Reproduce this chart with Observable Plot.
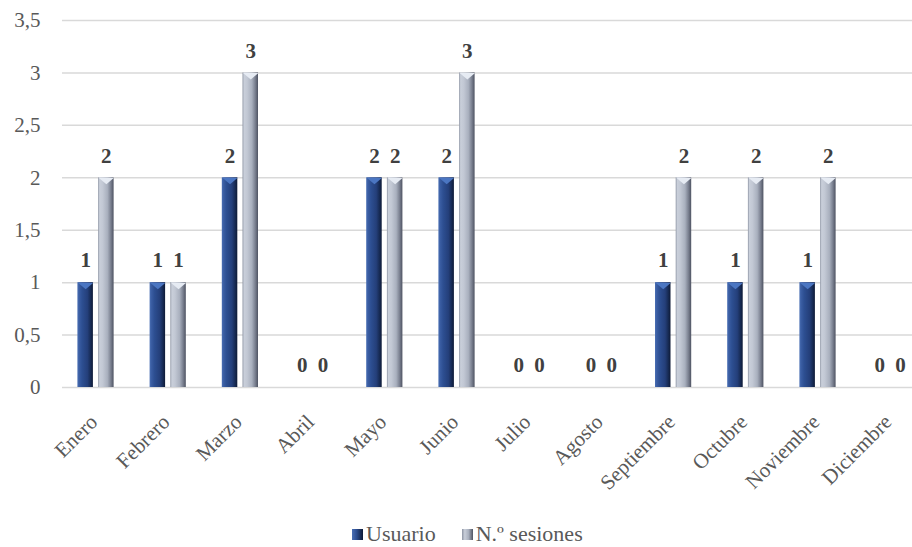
<!DOCTYPE html>
<html>
<head>
<meta charset="utf-8">
<script src="https://cdn.jsdelivr.net/npm/d3@7"></script>
<script src="https://cdn.jsdelivr.net/npm/@observablehq/plot@0.6"></script>
<style>
  html, body { margin: 0; padding: 0; background: #fff; }
  #wrap { position: relative; width: 912px; height: 547px; font-family: "Liberation Serif", "Times New Roman", serif; }
  #legend { position: absolute; left: 352px; top: 522px; height: 24px; line-height: 24px; font-size: 22px; color: #595959; white-space: nowrap; }
  #legend .sw { display: inline-block; width: 11px; height: 11px; vertical-align: 1px; margin-right: 3px; }
  #legend .item { display: inline-block; }
</style>
</head>
<body>
<div id="wrap"><div id="chart"></div><div id="legend"></div></div>
<script>
const months = ["Enero", "Febrero", "Marzo", "Abril", "Mayo", "Junio", "Julio", "Agosto", "Septiembre", "Octubre", "Noviembre", "Diciembre"];
const usuario = [1, 1, 2, 0, 2, 2, 0, 0, 1, 1, 1, 0];
const sesiones = [2, 1, 3, 0, 2, 3, 0, 0, 2, 2, 2, 0];
const seriesNames = ["Usuario", "N.º sesiones"];
const yTicks = [0, 0.5, 1, 1.5, 2, 2.5, 3, 3.5];

const rows = months.flatMap((m, i) => [
  {month: m, serie: seriesNames[0], value: usuario[i]},
  {month: m, serie: seriesNames[1], value: sesiones[i]}
]);
const blue = rows.filter(d => d.serie === seriesNames[0]);
const gray = rows.filter(d => d.serie === seriesNames[1]);

const font = "'Liberation Serif', 'Times New Roman', serif";

const defs = () => {
  const svg = d3.create("svg:g");
  const d = svg.append("defs");
  const gb = d.append("linearGradient").attr("id", "gBlue").attr("x1", 0).attr("x2", 1).attr("y1", 0).attr("y2", 0);
  [[0, "#4A6FB4"], [0.12, "#3A5DA2"], [0.3, "#2D4F92"], [0.65, "#243F7A"], [0.85, "#172B55"], [1, "#0E1A36"]]
    .forEach(([o, c]) => gb.append("stop").attr("offset", o).attr("stop-color", c));
  const gg = d.append("linearGradient").attr("id", "gGray").attr("x1", 0).attr("x2", 1).attr("y1", 0).attr("y2", 0);
  [[0, "#8E95A4"], [0.1, "#C9CFDA"], [0.3, "#C2C8D4"], [0.6, "#A9B0BE"], [0.82, "#7A8090"], [1, "#4E5362"]]
    .forEach(([o, c]) => gg.append("stop").attr("offset", o).attr("stop-color", c));
  return svg.node();
};

const capSymbol = {
  draw(ctx) {
    ctx.moveTo(-7.7, -3);
    ctx.lineTo(7.7, -3);
    ctx.lineTo(0, 3.5);
    ctx.closePath();
  }
};

const bw = 72.2;
const off = 10.35;

const chart = Plot.plot({
  width: 912,
  height: 522,
  marginTop: 20,
  marginBottom: 135,
  marginLeft: 62,
  marginRight: 0,
  style: {fontFamily: font, color: "#595959", background: "#fff"},
  x: {type: "band", domain: months, range: [59.4, 59.4 + 12 * bw], padding: 0, round: false, axis: null},
  y: {domain: [0, 3.5], axis: null},
  marks: [
    defs,
    Plot.ruleY(yTicks, {stroke: "#D9D9D9", strokeWidth: 1.5}),
    Plot.axisY({ticks: yTicks, tickSize: 0, tickPadding: 22, fontSize: 21, tickFormat: d => String(d).replace(".", ","), label: null}),
    Plot.barY(blue, {x: "month", y: "value", fill: "url(#gBlue)", insetLeft: 18, insetRight: 38.7}),
    Plot.barY(gray, {x: "month", y: "value", fill: "url(#gGray)", insetLeft: 38.7, insetRight: 18}),
    Plot.dot(blue.filter(d => d.value > 0), {x: "month", y: "value", dx: -off, dy: 3, symbol: capSymbol, fill: "#4B76C2", stroke: "none"}),
    Plot.dot(gray.filter(d => d.value > 0), {x: "month", y: "value", dx: off, dy: 3, symbol: capSymbol, fill: "#E6EBF3", stroke: "none"}),
    Plot.text(blue, {x: "month", y: "value", dx: -off, dy: -22, text: d => String(d.value), fontSize: 21, fontWeight: "bold", fill: "#404040"}),
    Plot.text(gray, {x: "month", y: "value", dx: off, dy: -22, text: d => String(d.value), fontSize: 21, fontWeight: "bold", fill: "#404040"}),
    Plot.text(months, {x: d => d, frameAnchor: "bottom", dy: 31, dx: -2, rotate: -45, textAnchor: "end", lineAnchor: "middle", fontSize: 21, fill: "#595959"})
  ]
});
document.getElementById("chart").appendChild(chart);

const legend = document.getElementById("legend");
legend.innerHTML =
  `<span class="item"><span class="sw" style="background:linear-gradient(90deg,#4A6FB4,#2D4F92 40%,#0E1A36)"></span>${seriesNames[0]}</span>` +
  `<span class="item" style="margin-left:26px"><span class="sw" style="background:linear-gradient(90deg,#8E95A4,#C9CFDA 25%,#A9B0BE 60%,#4E5362)"></span>${seriesNames[1]}</span>`;
</script>
</body>
</html>
